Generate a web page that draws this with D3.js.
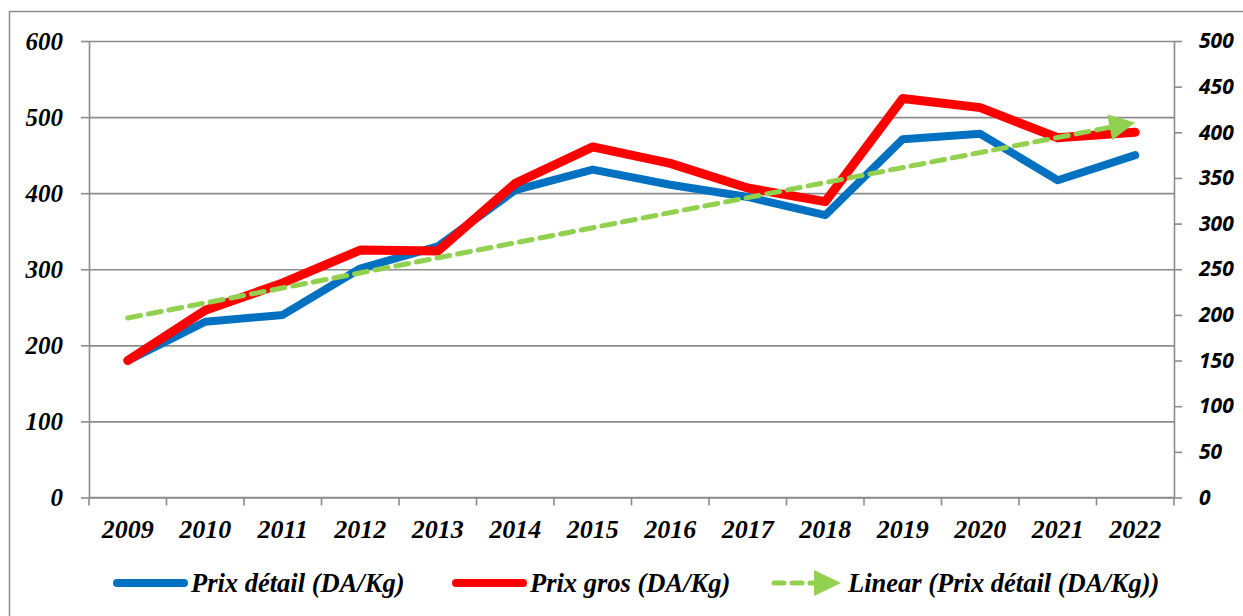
<!DOCTYPE html>
<html>
<head>
<meta charset="utf-8">
<script src="https://cdn.jsdelivr.net/npm/d3@7"></script>
<style>
  html, body { margin: 0; padding: 0; background: #fff; }
  svg { display: block; }
</style>
</head>
<body>
<svg id="chart"></svg>
<script>
// data
const years = ['2009','2010','2011','2012','2013','2014','2015','2016','2017','2018','2019','2020','2021','2022']
const prixDetail = [180, 231, 240, 301, 330, 404, 431, 411, 395, 371, 471, 478, 417, 450]   // left axis
const prixGros   = [150, 205, 235, 271, 270, 344, 384, 366, 339, 324, 437, 427, 394, 400]   // right axis
const trendYears = ['2009', '2022']
const trendValues = [236, 493]  // Linear (Prix détail) start/end, left axis
const leftTicks = [0, 100, 200, 300, 400, 500, 600]
const rightTicks = [0, 50, 100, 150, 200, 250, 300, 350, 400, 450, 500]
const legendLabels = ['Prix détail (DA/Kg)', 'Prix gros (DA/Kg)', 'Linear (Prix détail (DA/Kg))']

const width = 1243
const height = 616
const margin = ({top: 41, right: 69, bottom: 119, left: 89})

const blue = '#0070C0'
const red = '#FF0000'
const green = '#92D050'
const grey = '#8c8c8c'
const serif = '"Liberation Serif", "Times New Roman", serif'
const sans = '"Noto Sans", "Open Sans", sans-serif'

const svg = d3.select('#chart')
    .attr('width', width)
    .attr('height', height)

// outer frame (only left / top visible)
svg.append('rect')
    .attr('x', 9.5).attr('y', 11.5)
    .attr('width', width + 20).attr('height', height + 20)
    .attr('fill', 'none')
    .attr('stroke', grey)
    .attr('stroke-width', 1.5)

const x = d3.scaleBand()
    .domain(years)
    .range([margin.left, width - margin.right])
    .paddingInner(0).paddingOuter(0)

const cx = d => x(d) + x.bandwidth() / 2

const yL = d3.scaleLinear()
    .domain([0, 600])
    .range([height - margin.bottom + 0.5, margin.top])

const yR = d3.scaleLinear()
    .domain([0, 500])
    .range([height - margin.bottom + 0.5, margin.top])

// gridlines + left axis
svg.append('g')
    .attr('transform', `translate(${margin.left}, 0)`)
    .call(d3.axisLeft(yL).tickValues(leftTicks).tickSize(8).tickPadding(18).tickSizeOuter(0))
    .call(g => g.select('.domain').attr('stroke', grey).attr('stroke-width', 1.6))
    .call(g => g.selectAll('.tick line').clone()
        .attr('x2', width - margin.left - margin.right))
    .call(g => g.selectAll('.tick line').attr('stroke', grey).attr('stroke-width', 1.6))
    .call(g => g.selectAll('.tick text')
        .attr('fill', '#000')
        .attr('font-family', serif)
        .attr('font-style', 'italic')
        .attr('font-weight', 'bold')
        .attr('font-size', 25))

// right axis
svg.append('g')
    .attr('transform', `translate(${width - margin.right}, 0)`)
    .call(d3.axisRight(yR).tickValues(rightTicks).tickSize(8).tickPadding(17).tickSizeOuter(0))
    .call(g => g.select('.domain').attr('stroke', grey).attr('stroke-width', 1.6))
    .call(g => g.selectAll('.tick line').attr('stroke', grey).attr('stroke-width', 1.6))
    .call(g => g.selectAll('.tick text')
        .attr('fill', '#000')
        .attr('font-family', sans)
        .attr('font-style', 'italic')
        .attr('font-weight', 'bold')
        .attr('font-size', 21))

// x axis, ticks at category boundaries
const xb = svg.append('g')
    .attr('transform', `translate(0, ${height - margin.bottom + 0.5})`)
xb.append('line')
    .attr('x1', margin.left).attr('x2', width - margin.right)
    .attr('stroke', grey).attr('stroke-width', 1.6)
xb.selectAll('.bnd')
    .data(years.concat(['end']))
    .join('line')
        .attr('class', 'bnd')
        .attr('x1', (d, i) => margin.left + i * x.bandwidth())
        .attr('x2', (d, i) => margin.left + i * x.bandwidth())
        .attr('y1', 0).attr('y2', 8)
        .attr('stroke', grey).attr('stroke-width', 1.6)
xb.selectAll('.lbl')
    .data(years)
    .join('text')
        .attr('class', 'lbl')
        .attr('x', d => cx(d))
        .attr('y', 40)
        .attr('text-anchor', 'middle')
        .attr('font-family', serif)
        .attr('font-style', 'italic')
        .attr('font-weight', 'bold')
        .attr('font-size', 26)
        .text(d => d)

// lines
const lineL = d3.line().x((d, i) => cx(years[i])).y(d => yL(d))
const lineR = d3.line().x((d, i) => cx(years[i])).y(d => yR(d))

svg.append('path')
    .datum(prixDetail)
    .attr('fill', 'none')
    .attr('stroke', blue)
    .attr('stroke-width', 8)
    .attr('stroke-linejoin', 'round')
    .attr('stroke-linecap', 'round')
    .attr('d', lineL)

svg.append('path')
    .datum(prixGros)
    .attr('fill', 'none')
    .attr('stroke', red)
    .attr('stroke-width', 9)
    .attr('stroke-linejoin', 'round')
    .attr('stroke-linecap', 'round')
    .attr('d', lineR)

// trend line with arrow head
const defs = svg.append('defs')
defs.append('marker')
    .attr('id', 'arrow')
    .attr('viewBox', '0 0 10 10')
    .attr('refX', 10).attr('refY', 5)
    .attr('markerUnits', 'userSpaceOnUse')
    .attr('markerWidth', 30).attr('markerHeight', 26)
    .attr('orient', 'auto')
    .append('path')
        .attr('d', 'M0,0 L10,5 L0,10 Z')
        .attr('fill', green)

const tx = trendYears.map(cx)
const ty = trendValues.map(yL)
const ang = Math.atan2(ty[1] - ty[0], tx[1] - tx[0])
// dashed part stops at the arrow base
svg.append('line')
    .attr('x1', tx[0]).attr('y1', ty[0])
    .attr('x2', tx[1] - 26 * Math.cos(ang)).attr('y2', ty[1] - 26 * Math.sin(ang))
    .attr('stroke', green)
    .attr('stroke-width', 5)
    .attr('stroke-dasharray', '13 8')
    .attr('stroke-linecap', 'round')
svg.append('line')
    .attr('x1', tx[1] - 30 * Math.cos(ang)).attr('y1', ty[1] - 30 * Math.sin(ang))
    .attr('x2', tx[1]).attr('y2', ty[1])
    .attr('stroke', 'none')
    .attr('marker-end', 'url(#arrow)')

// legend
const legY = 583
const leg = svg.append('g')
const legItems = [
    {label: legendLabels[0], x0: 117, x1: 184, tx: 191, color: blue, dash: null},
    {label: legendLabels[1], x0: 456, x1: 523, tx: 530, color: red, dash: null},
    {label: legendLabels[2], x0: 774, x1: 814, tx: 848, color: green, dash: '10 8'}
]
legItems.forEach(it => {
    leg.append('line')
        .attr('x1', it.x0).attr('x2', it.x1)
        .attr('y1', legY).attr('y2', legY)
        .attr('stroke', it.color)
        .attr('stroke-width', it.dash ? 5 : 8)
        .attr('stroke-linecap', 'round')
        .attr('stroke-dasharray', it.dash)
    if (it.dash) {
        leg.append('path')
            .attr('d', `M${it.x1},${legY - 13} L${it.x1 + 27},${legY} L${it.x1},${legY + 13} Z`)
            .attr('fill', it.color)
    }
    leg.append('text')
        .attr('x', it.tx)
        .attr('y', legY + 9)
        .attr('font-family', serif)
        .attr('font-style', 'italic')
        .attr('font-weight', 'bold')
        .attr('font-size', 26.5)
        .text(it.label)
})
</script>
</body>
</html>
